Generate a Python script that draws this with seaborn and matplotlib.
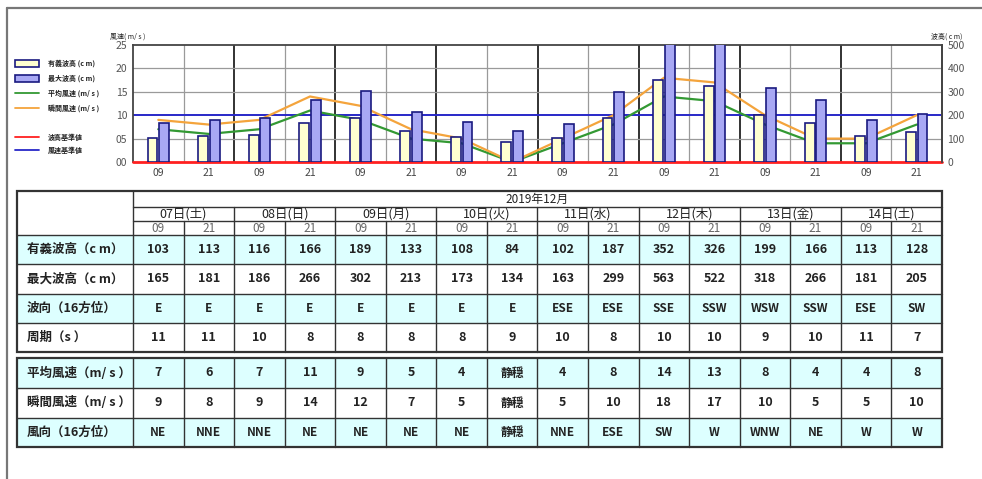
import numpy as np
import pandas as pd
import matplotlib
matplotlib.use("Agg")
import matplotlib.pyplot as plt
from matplotlib.patches import Rectangle
from matplotlib.lines import Line2D
import seaborn as sns

# ---------------- data ----------------
month_label = "2019年12月"
days = ["07日(土)", "08日(日)", "09日(月)", "10日(火)", "11日(水)", "12日(木)", "13日(金)", "14日(土)"]
hours = ["09", "21"] * 8
sig_wave = [103, 113, 116, 166, 189, 133, 108, 84, 102, 187, 352, 326, 199, 166, 113, 128]
max_wave = [165, 181, 186, 266, 302, 213, 173, 134, 163, 299, 563, 522, 318, 266, 181, 205]
wave_dir = ["E", "E", "E", "E", "E", "E", "E", "E", "ESE", "ESE", "SSE", "SSW", "WSW", "SSW", "ESE", "SW"]
period = [11, 11, 10, 8, 8, 8, 8, 9, 10, 8, 10, 10, 9, 10, 11, 7]
avg_wind = [7, 6, 7, 11, 9, 5, 4, "静穏", 4, 8, 14, 13, 8, 4, 4, 8]
gust_wind = [9, 8, 9, 14, 12, 7, 5, "静穏", 5, 10, 18, 17, 10, 5, 5, 10]
wind_dir = ["NE", "NNE", "NNE", "NE", "NE", "NE", "NE", "静穏", "NNE", "ESE", "SW", "W", "WNW", "NE", "W", "W"]
wave_rows = ["有義波高（c m）", "最大波高（c m）", "波向（16方位）", "周期（s ）"]
wind_rows = ["平均風速（m/ s ）", "瞬間風速（m/ s ）", "風向（16方位）"]
legend_labels = ["有義波高 (c m)", "最大波高 (c m)", "平均風速 (m/ s )", "瞬間風速 (m/ s )", "波高基準値", "風速基準値"]
wind_ticks = [0, 5, 10, 15, 20, 25]
wave_ticks = [0, 100, 200, 300, 400, 500]
wave_ref = 0
wind_ref = 10

# ---------------- style ----------------
sns.set_theme(style="white")
plt.rcParams["font.family"] = ["Noto Sans CJK JP", "DejaVu Sans"]

YELLOW = "#FFFFD0"
PURPLE = "#A8A8F4"
NAVY = "#1A1A80"
GREEN = "#339933"
ORANGE = "#F4A43C"
RED = "#FF2020"
BLUE = "#2828C8"
CYAN = "#DDFFFF"
LINE = "#333333"
TXT = "#222222"

W, H = 982, 479
fig = plt.figure(figsize=(W / 100, H / 100), dpi=100)
fig.patch.set_facecolor("white")

# overlay axes in pixel coordinates (table, legend, frame)
ax_t = fig.add_axes([0, 0, 1, 1])
ax_t.set_xlim(0, W)
ax_t.set_ylim(H, 0)
ax_t.axis("off")

# ---------------- chart ----------------
CL, CR, CT, CB = 133, 942, 45, 162
ax_w = fig.add_axes([CL / W, 1 - CB / H, (CR - CL) / W, (CB - CT) / H])
ax_h = ax_w.twinx()

n = len(hours)
slots = list(range(n))
to_num = lambda arr: [0 if isinstance(v, str) else v for v in arr]

# grid
for k in range(1, n):
    day_edge = (k % 2 == 0)
    ax_w.axvline(k - 0.5, color="#222222" if day_edge else "#9A9A9A",
                 lw=1.3 if day_edge else 0.9, zorder=0.5)
for v in [5, 15, 20]:
    ax_w.axhline(v, color="#9A9A9A", lw=0.9, zorder=0.5)
ax_w.axhline(wind_ref, color=BLUE, lw=1.4, zorder=0.8)
ax_w.axhline(wave_ref, color=RED, lw=2.0, zorder=3, clip_on=False)

line_df = pd.DataFrame({
    "slot": slots * 2,
    "series": [legend_labels[2]] * n + [legend_labels[3]] * n,
    "value": to_num(avg_wind) + to_num(gust_wind),
})
sns.lineplot(data=line_df, x="slot", y="value", hue="series",
             palette=[GREEN, ORANGE], linewidth=1.6, legend=False, ax=ax_w)

bar_df = pd.DataFrame({
    "slot": slots * 2,
    "series": [legend_labels[0]] * n + [legend_labels[1]] * n,
    "value": sig_wave + max_wave,
})
sns.barplot(data=bar_df, x="slot", y="value", hue="series",
            palette=[YELLOW, PURPLE], saturation=1, width=0.46, gap=0.15,
            edgecolor=NAVY, linewidth=1.2, errorbar=None, legend=False, ax=ax_h)

ax_w.set_xlim(-0.5, n - 0.5)
ax_w.set_ylim(0, 25)
ax_h.set_ylim(0, 500)
ax_w.set_xticks(slots)
ax_w.set_xticklabels(hours)
ax_w.set_yticks(wind_ticks)
ax_w.set_yticklabels([f"{v:02d}" for v in wind_ticks])
ax_h.set_yticks(wave_ticks)
ax_h.set_yticklabels([str(v) for v in wave_ticks])
for a in (ax_w, ax_h):
    a.set_xlabel("")
    a.set_ylabel("")
ax_w.tick_params(axis="x", length=0, pad=4, labelsize=7.5, labelcolor="#444444")
ax_w.tick_params(axis="y", length=0, pad=4, labelsize=7.5, labelcolor="#555555")
ax_h.tick_params(axis="y", length=0, pad=4, labelsize=7.5, labelcolor="#555555")

for s in ["top", "left", "right"]:
    ax_w.spines[s].set_color("#444444")
    ax_w.spines[s].set_linewidth(1.3)
ax_w.spines["bottom"].set_visible(False)
for s in ["top", "left", "bottom"]:
    ax_h.spines[s].set_visible(False)
ax_h.spines["right"].set_color("#444444")
ax_h.spines["right"].set_linewidth(1.3)

# axis titles
ax_t.text(110, 37, "風速( m/ s )", fontsize=5, color=TXT, va="center", ha="left")
ax_t.text(931, 37, "波高( c m)", fontsize=5, color=TXT, va="center", ha="left")

# legend
leg_y = [63, 78, 93, 108, 137, 150]
ax_t.add_patch(Rectangle((15, leg_y[0] - 3.5), 24, 7, fc=YELLOW, ec=NAVY, lw=1.2))
ax_t.add_patch(Rectangle((15, leg_y[1] - 3.5), 24, 7, fc=PURPLE, ec=NAVY, lw=1.2))
for y, c in zip(leg_y[2:], [GREEN, ORANGE, RED, BLUE]):
    ax_t.add_line(Line2D([15, 39], [y, y], color=c, lw=1.3))
for y, lab in zip(leg_y, legend_labels):
    ax_t.text(48, y, lab, fontsize=5, color=TXT, va="center", ha="left", weight="bold")

# outer frame
ax_t.add_line(Line2D([7, 7], [H, 8], color="#777777", lw=1.6))
ax_t.add_line(Line2D([7, W], [8, 8], color="#777777", lw=1.6))

# ---------------- table ----------------
TX0, TX1, TX2 = 17, CL, CR
cw = (TX2 - TX1) / n
colx = [TX1 + (i + 0.5) * cw for i in range(n)]

# top table
hy = [191, 207, 221, 235]
rh1 = (352 - 235) / 4
ry1 = [235 + i * rh1 for i in range(5)]
for i in range(4):
    if i % 2 == 0:
        ax_t.add_patch(Rectangle((TX0, ry1[i]), TX2 - TX0, rh1, fc=CYAN, ec="none"))
for y in hy[1:3]:
    ax_t.add_line(Line2D([TX1, TX2], [y, y], color=LINE, lw=1.0))
for y in ry1[:-1]:
    ax_t.add_line(Line2D([TX0, TX2], [y, y], color=LINE, lw=1.0))
ax_t.add_line(Line2D([TX1, TX1], [hy[0], ry1[-1]], color=LINE, lw=1.0))
for k in range(1, n):
    top = hy[1] if k % 2 == 0 else hy[2]
    ax_t.add_line(Line2D([TX1 + k * cw] * 2, [top, ry1[-1]], color=LINE, lw=1.0))
ax_t.add_patch(Rectangle((TX0, hy[0]), TX2 - TX0, ry1[-1] - hy[0], fc="none", ec=LINE, lw=1.6))

ax_t.text((TX1 + TX2) / 2, (hy[0] + hy[1]) / 2, month_label, fontsize=8.5, color=TXT,
          ha="center", va="center")
for d, lab in enumerate(days):
    ax_t.text(TX1 + (2 * d + 1) * cw, (hy[1] + hy[2]) / 2, lab, fontsize=9, color=TXT,
              ha="center", va="center")
for i, lab in enumerate(hours):
    ax_t.text(colx[i], (hy[2] + hy[3]) / 2, lab, fontsize=8.5, color="#666666",
              ha="center", va="center")

top_values = [sig_wave, max_wave, wave_dir, period]
for r, (lab, vals) in enumerate(zip(wave_rows, top_values)):
    yc = ry1[r] + rh1 / 2
    ax_t.text(27, yc, lab, fontsize=9, color=TXT, ha="left", va="center", weight="bold")
    for i, v in enumerate(vals):
        ax_t.text(colx[i], yc, str(v), fontsize=9 if not isinstance(v, str) else 8.5,
                  color=TXT, ha="center", va="center", weight="bold")

# bottom table
ry2 = [358, 388, 418, 447]
for i in range(3):
    if i % 2 == 0:
        ax_t.add_patch(Rectangle((TX0, ry2[i]), TX2 - TX0, ry2[i + 1] - ry2[i], fc=CYAN, ec="none"))
for y in ry2[1:-1]:
    ax_t.add_line(Line2D([TX0, TX2], [y, y], color=LINE, lw=1.0))
for k in range(0, n):
    ax_t.add_line(Line2D([TX1 + k * cw] * 2, [ry2[0], ry2[-1]], color=LINE, lw=1.0))
ax_t.add_patch(Rectangle((TX0, ry2[0]), TX2 - TX0, ry2[-1] - ry2[0], fc="none", ec=LINE, lw=1.6))

bot_values = [avg_wind, gust_wind, wind_dir]
for r, (lab, vals) in enumerate(zip(wind_rows, bot_values)):
    yc = (ry2[r] + ry2[r + 1]) / 2
    t = ax_t.text(27, yc, lab, fontsize=9, color=TXT, ha="left", va="center", weight="bold")
    clip = Rectangle((TX0, ry2[r]), TX1 - TX0, ry2[r + 1] - ry2[r], transform=ax_t.transData)
    t.set_clip_path(clip)
    for i, v in enumerate(vals):
        ax_t.text(colx[i], yc, str(v), fontsize=9 if not isinstance(v, str) else 8.5,
                  color=TXT, ha="center", va="center", weight="bold")

fig.savefig("out.png", dpi=100)
